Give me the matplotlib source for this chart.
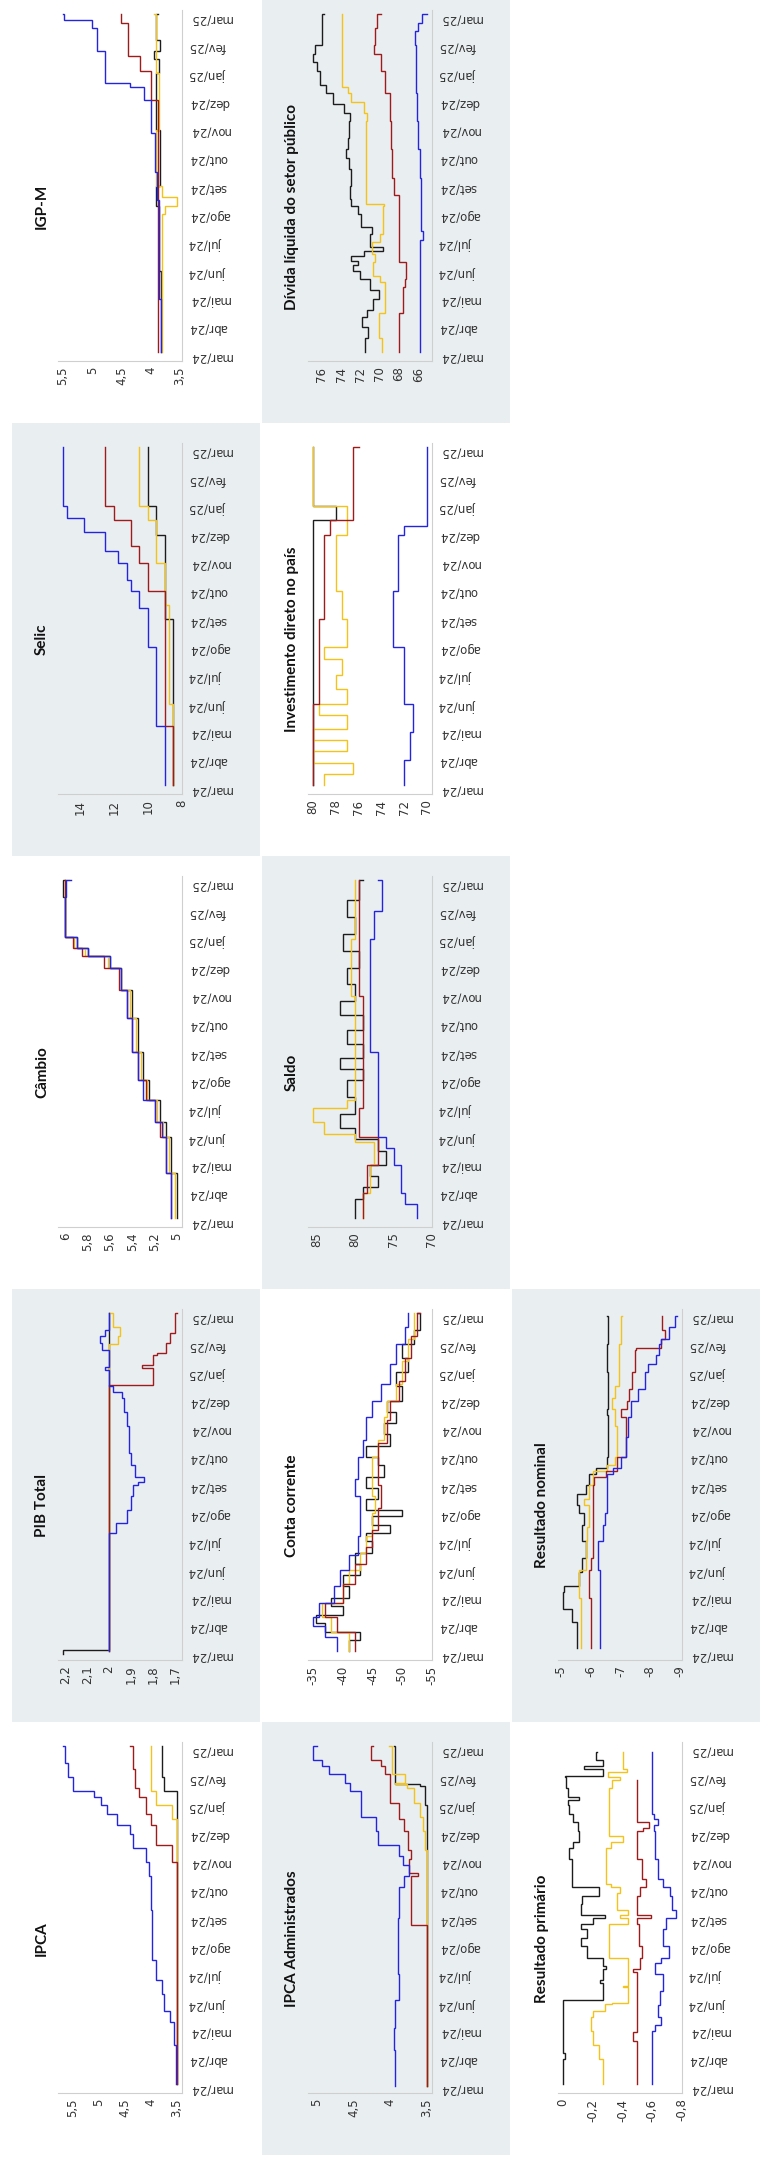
import matplotlib
matplotlib.use("Agg")
import matplotlib.pyplot as plt
from matplotlib.patches import Rectangle
from matplotlib.ticker import FuncFormatter

# ---------------- data (t = months since 1 Mar 2024, value) ----------------
MONTH_LABELS = ["mar/24", "abr/24", "mai/24", "jun/24", "jul/24", "ago/24", "set/24",
                "out/24", "nov/24", "dez/24", "jan/25", "fev/25", "mar/25"]

# IPCA
IPCA_BLACK = [(0.1, 3.5), (10.0, 3.5), (10.5, 3.75), (11.0, 3.78), (12.1, 3.78)]
IPCA_YELLOW = [(0.1, 3.5), (9.0, 3.5), (9.5, 3.6), (10.0, 3.9), (10.5, 4.0), (12.1, 4.0)]
IPCA_RED = [(0.1, 3.5), (7.5, 3.5), (8.0, 3.6), (8.6, 3.9), (9.3, 4.0), (9.7, 4.1), (10.3, 4.22),
            (10.6, 4.3), (11.3, 4.35), (12.1, 4.4)]
IPCA_BLUE = [(0.1, 3.51), (1.5, 3.55), (2.3, 3.64), (2.7, 3.74), (3.3, 3.78), (3.8, 3.9), (4.5, 3.97),
             (6.3, 3.99), (7.0, 4.0), (7.5, 4.03), (8.0, 4.1), (8.5, 4.34), (9.0, 4.4), (9.3, 4.64),
             (9.7, 4.84), (10.0, 4.96), (10.3, 5.08), (10.5, 5.5), (11.0, 5.58), (11.5, 5.65), (12.1, 5.68)]
IPCA_TICKS = [3.5, 4, 4.5, 5, 5.5]

# PIB Total
PIB_BLACK = [(0.0, 2.21), (0.15, 2.0), (12.1, 2.0)]
PIB_YELLOW = [(0.1, 2.0), (10.9, 2.0), (11.0, 1.96), (11.3, 1.95), (11.6, 1.98), (12.1, 2.0)]
PIB_RED = [(0.1, 2.0), (9.5, 2.0), (9.55, 1.8), (10.1, 1.8), (10.15, 1.85), (10.25, 1.8), (10.6, 1.78),
           (10.7, 1.74), (11.05, 1.72), (11.4, 1.7), (12.1, 1.69)]
PIB_BLUE = [(0.1, 2.0), (4.2, 2.0), (4.3, 1.97), (4.65, 1.92), (5.1, 1.9), (5.6, 1.89), (6.0, 1.87),
            (6.1, 1.84), (6.3, 1.88), (6.7, 1.9), (7.15, 1.91), (8.1, 1.92), (8.6, 1.93), (9.1, 1.94),
            (9.3, 1.98), (9.5, 2.0), (10.1, 2.02), (10.2, 2.0), (10.8, 2.03), (11.05, 2.04), (11.3, 2.02),
            (11.5, 2.0), (12.1, 2.0)]
PIB_TICKS = [1.7, 1.8, 1.9, 2.0, 2.1, 2.2]

# Cambio
CAMBIO_BLACK = [(0.1, 5.0), (1.7, 5.05), (3.0, 5.1), (3.5, 5.15), (4.3, 5.25), (5.0, 5.3), (6.0, 5.35),
                (7.2, 5.4), (8.2, 5.5), (9.0, 5.6), (9.4, 5.8), (9.7, 5.9), (10.1, 6.0), (11.5, 6.02), (12.1, 6.0)]
CAMBIO_YELLOW = [(0.1, 5.02), (1.7, 5.07), (3.0, 5.12), (3.5, 5.18), (4.3, 5.27), (5.0, 5.32), (6.0, 5.37),
                 (7.2, 5.42), (8.2, 5.5), (9.0, 5.62), (9.4, 5.82), (9.7, 5.92), (10.1, 6.0), (12.1, 5.97)]
CAMBIO_RED = [(0.1, 5.05), (1.7, 5.1), (3.0, 5.15), (3.5, 5.2), (4.3, 5.28), (5.0, 5.35), (6.0, 5.4),
              (7.2, 5.45), (8.2, 5.52), (9.0, 5.65), (9.4, 5.85), (9.7, 5.93), (10.1, 6.0), (12.1, 6.0)]
CAMBIO_BLUE = [(0.1, 5.05), (1.7, 5.1), (3.0, 5.13), (3.5, 5.2), (4.3, 5.3), (5.0, 5.35), (6.0, 5.4),
               (7.2, 5.45), (8.2, 5.5), (9.0, 5.6), (9.4, 5.8), (9.7, 5.9), (10.1, 6.0), (11.5, 5.99), (12.1, 5.95)]
CAMBIO_TICKS = [5, 5.2, 5.4, 5.6, 5.8, 6]

# Selic
SELIC_BLACK = [(0.1, 8.5), (6.0, 9.0), (9.0, 9.5), (10.0, 10.0), (12.1, 10.0)]
SELIC_YELLOW = [(0.1, 8.5), (3.0, 8.75), (6.5, 9.0), (8.0, 9.5), (9.5, 10.0), (10.0, 10.5), (12.1, 10.5)]
SELIC_RED = [(0.1, 8.5), (2.2, 9.0), (6.0, 9.0), (7.0, 10.0), (8.0, 10.5), (8.6, 11.0), (9.5, 12.0),
             (10.0, 12.5), (12.1, 12.5)]
SELIC_BLUE = [(0.1, 9.0), (1.6, 9.0), (2.2, 9.5), (3.3, 9.5), (5.0, 10.0), (6.4, 10.5), (7.0, 11.0),
              (7.4, 11.25), (8.0, 11.75), (8.4, 12.5), (9.1, 13.75), (9.6, 14.75), (10.0, 15.0), (12.1, 15.0)]
SELIC_TICKS = [8, 10, 12, 14]

# IGP-M
IGPM_BLACK = [(0.1, 3.82), (3.0, 3.85), (5.3, 3.9), (6.0, 3.84), (8.0, 3.9), (10.0, 3.86), (10.5, 3.95),
              (10.8, 3.84), (11.2, 3.9), (12.1, 3.88)]
IGPM_YELLOW = [(0.1, 3.8), (5.0, 3.75), (5.3, 3.55), (5.6, 3.8), (6.0, 3.9), (8.0, 3.85), (10.0, 3.9),
               (12.1, 3.95)]
IGPM_RED = [(0.1, 3.87), (8.7, 3.87), (9.05, 4.0), (10.1, 4.19), (10.6, 4.38), (11.7, 4.38), (11.8, 4.5),
            (12.1, 4.5)]
IGPM_BLUE = [(0.1, 3.83), (2.0, 3.85), (4.0, 3.86), (5.5, 3.89), (6.5, 3.93), (7.9, 4.0), (8.7, 4.0),
             (9.05, 4.12), (9.5, 4.35), (9.65, 4.78), (10.6, 4.78), (10.8, 4.92), (11.6, 5.0), (11.9, 5.48),
             (12.1, 5.5)]
IGPM_TICKS = [3.5, 4, 4.5, 5, 5.5]

# IPCA Administrados
ADM_BLACK = [(0.05, 3.5), (9.6, 3.5), (10.0, 3.52), (10.7, 3.6), (10.75, 3.93), (12.1, 3.95)]
ADM_YELLOW = [(0.05, 3.5), (8.1, 3.5), (8.4, 3.52), (9.1, 3.55), (9.6, 3.6), (10.1, 3.67), (10.6, 3.77),
              (10.75, 3.93), (10.8, 3.8), (11.1, 3.97), (12.1, 4.02)]
ADM_RED = [(0.05, 3.5), (5.7, 3.5), (5.75, 3.71), (7.4, 3.71), (7.5, 3.62), (7.6, 3.74), (8.1, 3.72),
           (8.4, 3.76), (9.1, 3.81), (9.5, 3.88), (10.1, 4.0), (11.1, 4.07), (11.4, 4.12), (11.6, 4.26),
           (12.1, 4.24)]
ADM_BLUE = [(0.05, 3.93), (1.3, 3.95), (2.1, 3.93), (3.1, 3.88), (4.0, 3.9), (6.0, 3.88), (7.1, 3.81),
            (7.5, 3.74), (7.9, 3.83), (8.2, 3.88), (8.6, 4.17), (9.1, 4.19), (9.6, 4.4), (10.1, 4.4),
            (10.5, 4.55), (10.8, 4.62), (11.1, 4.83), (11.4, 4.93), (11.6, 5.05), (12.1, 5.0)]
ADM_TICKS = [3.5, 4, 4.5, 5]

# Conta corrente
CC_BLACK = [(0.1, -41), (0.5, -43), (0.8, -37), (1.1, -35.5), (1.4, -40), (1.7, -38), (2.0, -41),
            (2.4, -40), (2.8, -43), (3.2, -42), (3.6, -45), (4.0, -44), (4.3, -48), (4.6, -45), (4.9, -50),
            (5.1, -44), (5.5, -46), (5.9, -44), (6.3, -47), (6.7, -46), (7.0, -44), (7.4, -48), (7.8, -47),
            (8.2, -49), (8.6, -47.5), (9.0, -50), (9.5, -49), (10.0, -51), (10.5, -50), (11.0, -52),
            (11.5, -53), (12.1, -52.5)]
CC_YELLOW = [(0.1, -41), (0.8, -38), (1.3, -36.5), (1.8, -40), (2.5, -41), (3.0, -43), (3.6, -44),
             (4.2, -45), (5.0, -45.5), (5.6, -45), (7.0, -46), (7.6, -47), (8.4, -47.5), (9.0, -49),
             (9.6, -50), (10.4, -51), (11.2, -52), (12.1, -52)]
CC_RED = [(0.1, -42), (0.8, -39), (1.3, -37), (1.8, -40), (2.5, -42), (3.2, -44), (3.8, -45), (4.4, -46),
          (5.2, -46.5), (6.0, -46), (7.5, -47.5), (8.3, -48), (9.0, -49.5), (9.7, -50.5), (10.5, -51.5),
          (11.3, -52.5), (12.1, -53)]
CC_BLUE = [(0.1, -39), (0.6, -37), (1.0, -35), (1.3, -36), (1.8, -38.5), (2.4, -39.5), (3.0, -41),
           (3.5, -42.5), (4.2, -43), (5.0, -43), (5.6, -42), (6.2, -42.5), (7.0, -43.5), (7.6, -44),
           (8.4, -45), (9.0, -46.5), (9.6, -48), (10.3, -49), (11.0, -50.5), (11.6, -51), (12.1, -51)]
CC_TICKS = [-55, -50, -45, -40, -35]

# Saldo
SALDO_BLACK = [(0.1, 80), (0.8, 79), (1.2, 77), (1.6, 78), (2.0, 76), (2.5, 77), (2.9, 80), (3.3, 82),
               (3.8, 80), (4.4, 81), (5.0, 79), (5.4, 82), (5.8, 79), (6.3, 81), (6.8, 79), (7.3, 82),
               (7.8, 80), (8.4, 81), (9.0, 79.5), (9.6, 81.5), (10.2, 80), (10.8, 81), (11.4, 79.5),
               (12.1, 79)]
SALDO_YELLOW = [(0.1, 79), (1.0, 78), (2.0, 77.5), (2.8, 80), (3.1, 84), (3.5, 85.5), (4.0, 81),
                (4.3, 80), (6.0, 80), (8.0, 80.5), (10.0, 80), (12.1, 80)]
SALDO_RED = [(0.1, 79), (1.0, 78.5), (2.0, 77), (3.0, 79.5), (4.0, 79), (6.0, 79), (8.0, 79.5),
             (10.0, 79.5), (12.1, 79.5)]
SALDO_BLUE = [(0.1, 72), (0.6, 73.5), (1.0, 74), (2.0, 75), (2.6, 76), (3.0, 77), (4.0, 77), (6.0, 78),
              (8.0, 78), (10.0, 77.5), (11.0, 76.5), (12.1, 77)]
SALDO_TICKS = [70, 75, 80, 85]

# Investimento direto no pais
IDP_BLACK = [(0.1, 80), (9.0, 80), (9.5, 78), (10.0, 80), (12.1, 80)]
IDP_YELLOW = [(0.1, 79), (0.5, 76.5), (0.9, 80), (1.3, 77), (1.7, 80), (2.1, 77), (2.6, 79.5), (3.0, 77),
              (3.5, 78), (4.0, 77.5), (4.6, 79), (5.0, 77), (6.0, 77.5), (7.0, 78), (8.0, 78), (9.0, 77),
              (10.0, 80), (12.1, 80)]
IDP_RED = [(0.1, 80), (3.0, 79.5), (6.0, 79), (8.0, 79), (9.0, 78.5), (9.5, 76.5), (12.1, 76)]
IDP_BLUE = [(0.1, 72), (1.0, 71.5), (2.0, 71.2), (3.0, 72), (4.0, 72), (5.0, 73), (6.0, 73), (7.0, 72.5),
            (8.0, 72.5), (9.0, 72), (9.3, 70), (12.1, 70)]
IDP_TICKS = [70, 72, 74, 76, 78, 80]

# Divida liquida do setor publico
DLSP_BLACK = [(0.1, 71.5), (0.6, 71.2), (1.0, 71.8), (1.35, 71.3), (1.6, 70.7), (2.0, 70.1), (2.3, 71.0),
              (2.7, 72.0), (3.0, 72.8), (3.2, 72.2), (3.35, 73.0), (3.5, 71.6), (3.7, 69.6), (3.85, 71.0),
              (4.3, 70.8), (4.55, 71.9), (5.0, 72.2), (5.3, 73.0), (5.55, 73.1), (6.0, 73.0), (6.6, 73.2),
              (7.0, 73.5), (7.3, 73.3), (7.7, 73.2), (8.3, 73.1), (8.6, 73.7), (8.9, 74.8), (9.3, 75.6),
              (9.6, 76.2), (10.1, 76.5), (10.4, 76.9), (10.7, 76.7), (11.0, 76.0), (11.4, 76.0), (12.1, 75.8)]
DLSP_YELLOW = [(0.1, 69.8), (0.6, 70.1), (1.5, 69.4), (2.6, 70.0), (2.8, 70.7), (3.3, 70.5), (3.6, 70.8),
               (4.0, 70.0), (4.3, 69.6), (5.3, 69.5), (5.35, 71.4), (7.5, 71.4), (8.3, 71.3), (8.6, 71.6),
               (9.0, 73.0), (9.3, 73.3), (9.5, 73.9), (12.1, 73.9)]
DLSP_RED = [(0.1, 68.0), (1.5, 67.6), (2.4, 67.4), (2.7, 67.25), (3.3, 68.0), (5.3, 68.0), (5.7, 68.5),
            (6.3, 68.7), (7.3, 68.8), (8.3, 68.9), (9.3, 69.4), (10.1, 69.9), (10.7, 70.6), (11.0, 70.5),
            (11.6, 70.3), (12.1, 69.9)]
DLSP_BLUE = [(0.1, 65.8), (3.8, 65.8), (4.1, 65.5), (4.4, 65.7), (6.3, 65.8), (7.3, 66.0), (8.3, 66.1),
             (9.3, 66.2), (10.1, 66.25), (11.0, 66.3), (11.5, 66.0), (11.8, 65.6), (12.1, 65.1)]
DLSP_TICKS = [66, 68, 70, 72, 74, 76]

# Resultado primario
PRIM_BLACK = [(0.1, 0.0), (1.0, -0.01), (1.2, 0.0), (3.1, -0.27), (3.7, -0.25), (3.8, -0.27), (4.2, -0.29),
              (4.3, -0.27), (4.6, -0.16), (5.0, -0.12), (5.3, -0.16), (5.6, -0.12), (5.8, -0.2), (6.0, -0.28),
              (6.1, -0.12), (6.5, -0.13), (6.8, -0.24), (7.1, -0.06), (8.1, -0.04), (8.5, -0.07), (8.7, -0.11),
              (9.1, -0.1), (9.4, -0.07), (9.7, -0.04), (10.0, -0.03), (10.2, -0.11), (10.3, -0.03),
              (10.6, -0.02), (11.0, -0.01), (11.05, -0.27), (11.3, -0.14), (11.4, -0.27), (11.6, -0.22),
              (11.9, -0.23)]
PRIM_YELLOW = [(0.1, -0.27), (1.0, -0.24), (1.5, -0.2), (2.0, -0.19), (2.5, -0.2), (2.7, -0.28),
               (2.95, -0.33), (3.0, -0.44), (3.5, -0.44), (3.55, -0.4), (3.6, -0.44), (4.6, -0.31),
               (5.5, -0.31), (5.8, -0.44), (6.0, -0.38), (6.1, -0.44), (6.3, -0.36), (6.9, -0.38),
               (7.1, -0.32), (7.2, -0.29), (8.5, -0.32), (8.7, -0.4), (8.9, -0.31), (10.6, -0.33),
               (10.9, -0.38), (11.0, -0.3), (11.2, -0.43), (11.3, -0.4), (11.9, -0.4)]
PRIM_RED = [(0.1, -0.5), (1.6, -0.5), (1.65, -0.47), (1.9, -0.47), (1.95, -0.5), (4.1, -0.47),
            (4.2, -0.52), (4.6, -0.53), (5.0, -0.51), (5.8, -0.5), (6.0, -0.59), (6.1, -0.5), (6.8, -0.52),
            (7.1, -0.56), (7.4, -0.53), (8.1, -0.5), (9.0, -0.5), (9.1, -0.54), (9.2, -0.58), (9.4, -0.5),
            (10.9, -0.5)]
PRIM_BLUE = [(0.1, -0.6), (2.0, -0.62), (2.2, -0.66), (2.5, -0.64), (2.9, -0.65), (3.4, -0.67),
             (4.0, -0.62), (4.4, -0.66), (4.6, -0.71), (5.0, -0.67), (5.6, -0.69), (6.0, -0.76),
             (6.3, -0.73), (6.8, -0.72), (7.1, -0.67), (7.4, -0.64), (8.1, -0.62), (9.1, -0.61),
             (9.3, -0.64), (9.5, -0.61), (9.7, -0.6), (11.9, -0.6)]
PRIM_TICKS = [-0.8, -0.6, -0.4, -0.2, 0]

# Resultado nominal
NOM_BLACK = [(0.2, -5.53), (1.0, -5.53), (1.15, -5.35), (1.6, -5.06), (2.2, -5.1), (2.4, -5.6),
             (2.9, -5.7), (3.4, -5.82), (4.0, -5.7), (4.6, -5.76), (5.0, -5.6), (5.3, -5.53), (5.7, -5.82),
             (6.0, -5.94), (6.4, -6.18), (6.6, -6.53), (7.0, -6.59), (8.1, -6.59), (8.5, -6.53),
             (8.7, -6.59), (10.0, -6.53), (11.0, -6.59), (12.0, -6.53)]
NOM_YELLOW = [(0.2, -5.65), (2.0, -5.6), (3.0, -5.82), (4.0, -5.88), (4.5, -5.94), (5.3, -5.76),
              (5.5, -5.94), (6.0, -6.06), (6.5, -6.53), (6.7, -6.82), (7.0, -6.88), (8.1, -6.82),
              (8.7, -6.7), (9.1, -6.82), (9.5, -6.94), (11.0, -7.0), (12.0, -7.06)]
NOM_RED = [(0.2, -6.0), (2.0, -5.94), (3.0, -6.0), (3.4, -6.06), (6.0, -6.1), (6.3, -6.5), (6.5, -6.88),
           (7.0, -7.18), (8.3, -7.18), (8.4, -7.0), (8.7, -7.2), (9.0, -7.3), (9.4, -7.4), (10.0, -7.47),
           (10.8, -7.53), (10.85, -8.35), (11.2, -8.5), (11.5, -8.4), (12.0, -8.4)]
NOM_BLUE = [(0.2, -6.3), (3.0, -6.24), (4.0, -6.41), (4.6, -6.47), (5.0, -6.53), (6.2, -6.53),
            (6.4, -6.76), (6.6, -7.0), (7.0, -7.18), (7.7, -7.24), (8.1, -7.24), (8.4, -7.35), (9.0, -7.6),
            (9.4, -7.82), (10.0, -7.94), (10.3, -8.18), (10.6, -8.3), (11.0, -8.35), (11.2, -8.65),
            (11.6, -8.82), (12.0, -8.9)]
NOM_TICKS = [-9, -8, -7, -6, -5]

# ---------------- styling / layout ----------------
W, H, DPI = 763, 2161, 100
COLORS = {"black": "#1c1c1c", "yellow": "#f3c31c", "red": "#9e1b1b", "blue": "#2323e0"}
PANEL_BG = "#e9eef1"

PANELS = [
    ("IPCA", 0, 0, IPCA_BLACK, IPCA_YELLOW, IPCA_RED, IPCA_BLUE, IPCA_TICKS),
    ("PIB Total", 0, 1, PIB_BLACK, PIB_YELLOW, PIB_RED, PIB_BLUE, PIB_TICKS),
    ("Câmbio", 0, 2, CAMBIO_BLACK, CAMBIO_YELLOW, CAMBIO_RED, CAMBIO_BLUE, CAMBIO_TICKS),
    ("Selic", 0, 3, SELIC_BLACK, SELIC_YELLOW, SELIC_RED, SELIC_BLUE, SELIC_TICKS),
    ("IGP-M", 0, 4, IGPM_BLACK, IGPM_YELLOW, IGPM_RED, IGPM_BLUE, IGPM_TICKS),
    ("IPCA Administrados", 1, 0, ADM_BLACK, ADM_YELLOW, ADM_RED, ADM_BLUE, ADM_TICKS),
    ("Conta corrente", 1, 1, CC_BLACK, CC_YELLOW, CC_RED, CC_BLUE, CC_TICKS),
    ("Saldo", 1, 2, SALDO_BLACK, SALDO_YELLOW, SALDO_RED, SALDO_BLUE, SALDO_TICKS),
    ("Investimento direto no país", 1, 3, IDP_BLACK, IDP_YELLOW, IDP_RED, IDP_BLUE, IDP_TICKS),
    ("Dívida líquida do setor público", 1, 4, DLSP_BLACK, DLSP_YELLOW, DLSP_RED, DLSP_BLUE, DLSP_TICKS),
    ("Resultado primário", 2, 0, PRIM_BLACK, PRIM_YELLOW, PRIM_RED, PRIM_BLUE, PRIM_TICKS),
    ("Resultado nominal", 2, 1, NOM_BLACK, NOM_YELLOW, NOM_RED, NOM_BLUE, NOM_TICKS),
]


def step_xy(pairs):
    """value held until the next observation -> vertical runs in the rotated frame"""
    ts, vs = [], []
    for i, (t, v) in enumerate(pairs):
        if i > 0:
            ts.append(t)
            vs.append(pairs[i - 1][1])
        ts.append(t)
        vs.append(v)
    return vs, ts


def fmt(v, pos):
    return f"{v:g}".replace(".", ",")


fig = plt.figure(figsize=(W / DPI, H / DPI), dpi=DPI)
fig.patch.set_facecolor("white")


def fig_box(x, y_top, w, h):
    return [x / W, 1 - (y_top + h) / H, w / W, h / H]


PANEL_W, PANEL_H = 248, 433
for title, r, c, s_black, s_yellow, s_red, s_blue, ticks in PANELS:
    px = 12 + 250 * r
    py = 1722 - 433 * c
    if (r + c) % 2 == 1:
        fig.add_artist(Rectangle((px / W, 1 - (py + PANEL_H) / H), PANEL_W / W, PANEL_H / H,
                                 transform=fig.transFigure, facecolor=PANEL_BG, edgecolor="none",
                                 zorder=0))
    ax = fig.add_axes(fig_box(px + 46, py + 20, 124, 351))
    ax.set_facecolor("none")
    for key, series in (("black", s_black), ("yellow", s_yellow), ("red", s_red), ("blue", s_blue)):
        xs, ys = step_xy(series)
        ax.plot(xs, ys, color=COLORS[key], lw=1.0, solid_joinstyle="miter")
    ax.margins(x=0.045)
    ax.set_ylim(-0.21, 12.25)
    ax.invert_xaxis()
    ax.set_xticks(ticks)
    ax.xaxis.set_major_formatter(FuncFormatter(fmt))
    ax.set_yticks(range(len(MONTH_LABELS)))
    ax.set_yticklabels(MONTH_LABELS)
    ax.yaxis.tick_right()
    ax.tick_params(axis="both", length=0, colors="#333333", labelsize=8.5)
    ax.tick_params(axis="x", pad=4, labelrotation=90)
    ax.tick_params(axis="y", pad=5, labelrotation=180)
    for side in ("top", "left"):
        ax.spines[side].set_visible(False)
    for side in ("bottom", "right"):
        ax.spines[side].set_color("#cfcfcf")
        ax.spines[side].set_linewidth(0.8)
    fig.text((px + 30) / W, 1 - (py + PANEL_H / 2) / H, title, rotation=90, ha="center", va="center",
             fontsize=11, fontweight="bold", family=["Lato", "DejaVu Sans"], color="#111111")

fig.savefig("out.png", dpi=DPI)
